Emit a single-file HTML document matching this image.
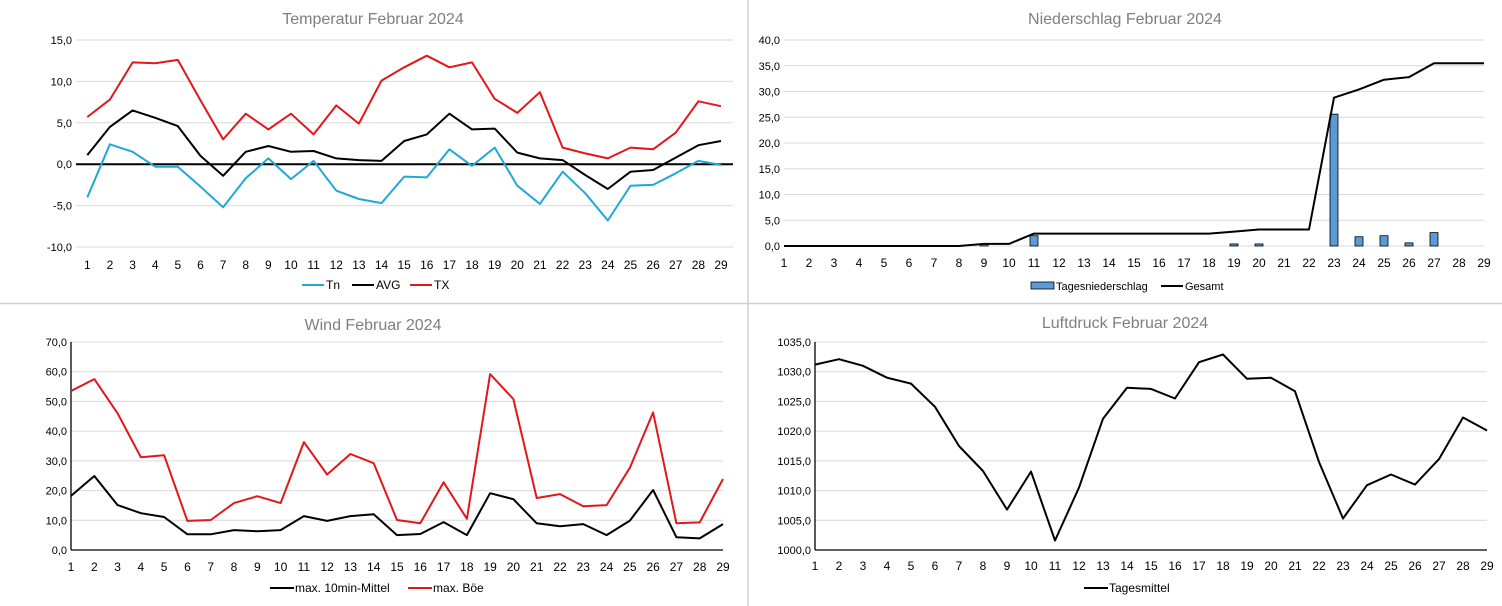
<!DOCTYPE html>
<html><head><meta charset="utf-8"><style>
html,body{margin:0;padding:0;background:#fff}
svg{display:block;font-family:"Liberation Sans",sans-serif}
</style></head><body>
<svg id="s" width="1502" height="606" xmlns="http://www.w3.org/2000/svg"></svg>
<script>
const s=document.getElementById('s');let h='';
function fmt(v){return v.toFixed(1).replace('.',',');}
function line(pts,c,w){return `<polyline points="${pts.map(p=>p[0].toFixed(1)+','+p[1].toFixed(1)).join(' ')}" fill="none" stroke="${c}" stroke-width="${w||2}" stroke-linejoin="round"/>`;}
function chart(o){
  // o: x0 (day1 x), x1 (day29 x), gl,gr grid extent, yTop,yBot,vMin,vMax,step
  const X=i=>o.x0+(o.x1-o.x0)*i/28;
  const Y=v=>o.yBot-(v-o.vMin)/(o.vMax-o.vMin)*(o.yBot-o.yTop);
  h+=`<text x="${o.tx}" y="${o.ty}" font-size="16" fill="#7f7f7f" text-anchor="middle">${o.title}</text>`;
  for(let v=o.vMin;v<=o.vMax+1e-6;v+=o.step){
    const y=Y(v);
    h+=`<line x1="${o.gl}" x2="${o.gr}" y1="${y}" y2="${y}" stroke="#d9d9d9" stroke-width="1"/>`;
    h+=`<text x="${o.gl-4}" y="${y+4}" font-size="11" text-anchor="end" fill="#000">${fmt(v)}</text>`;
  }
  for(let i=0;i<29;i++)h+=`<text x="${X(i)}" y="${o.lblY}" font-size="12" text-anchor="middle">${i+1}</text>`;
  return {X,Y};
}
// Temperature
let c=chart({title:'Temperatur Februar 2024',tx:373,ty:24,x0:87.3,x1:721,gl:76,gr:733,yTop:40,yBot:247,vMin:-10,vMax:15,step:5,lblY:269});
const TX=[5.7,7.8,12.3,12.2,12.6,7.7,3.0,6.1,4.2,6.1,3.6,7.1,4.9,10.1,11.7,13.1,11.7,12.3,7.9,6.2,8.7,2.0,1.3,0.7,2.0,1.8,3.8,7.6,7.0];
const AV=[1.1,4.5,6.5,5.6,4.6,1.0,-1.4,1.5,2.2,1.5,1.6,0.7,0.5,0.4,2.8,3.6,6.1,4.2,4.3,1.4,0.7,0.5,-1.3,-3.0,-0.9,-0.7,0.8,2.3,2.8];
const TN=[-4.0,2.4,1.5,-0.3,-0.3,-2.7,-5.2,-1.7,0.7,-1.8,0.4,-3.2,-4.2,-4.7,-1.5,-1.6,1.8,-0.2,2.0,-2.6,-4.8,-0.9,-3.5,-6.8,-2.6,-2.5,-1.1,0.4,-0.1];
h+=`<line x1="76" x2="733" y1="${c.Y(0)}" y2="${c.Y(0)}" stroke="#000" stroke-width="2"/>`;
h+=line(TN.map((v,i)=>[c.X(i),c.Y(v)]),'#1fa8d8');
h+=line(AV.map((v,i)=>[c.X(i),c.Y(v)]),'#000');
h+=line(TX.map((v,i)=>[c.X(i),c.Y(v)]),'#e3171b');
h+=`<line x1="302" x2="324" y1="285" y2="285" stroke="#1fa8d8" stroke-width="2"/><text x="326" y="289" font-size="12">Tn</text>`;
h+=`<line x1="352" x2="374" y1="285" y2="285" stroke="#000" stroke-width="2"/><text x="376" y="289" font-size="12">AVG</text>`;
h+=`<line x1="410" x2="432" y1="285" y2="285" stroke="#e3171b" stroke-width="2"/><text x="434" y="289" font-size="12">TX</text>`;
// Rain
c=chart({title:'Niederschlag Februar 2024',tx:1125,ty:24,x0:784,x1:1484,gl:784,gr:1484,yTop:40,yBot:246,vMin:0,vMax:40,step:5,lblY:267});
const B={8:0.4,10:2.0,18:0.4,19:0.4,22:25.6,23:1.8,24:2.0,25:0.6,26:2.6};
for(const k in B){const x=c.X(+k),y=c.Y(B[k]);h+=`<rect x="${x-4}" y="${y}" width="8" height="${246-y}" fill="#5b9bd5" stroke="#000" stroke-width="0.8"/>`;}
const G=[0,0,0,0,0,0,0,0,0.4,0.4,2.4,2.4,2.4,2.4,2.4,2.4,2.4,2.4,2.8,3.2,3.2,3.2,28.8,30.4,32.3,32.8,35.5,35.5,35.5];
h+=line(G.map((v,i)=>[c.X(i),c.Y(v)]),'#000');
h+=`<rect x="1031" y="282" width="23" height="7" fill="#5b9bd5" stroke="#000" stroke-width="0.8"/><text x="1056" y="290" font-size="11">Tagesniederschlag</text>`;
h+=`<line x1="1161" x2="1183" y1="286" y2="286" stroke="#000" stroke-width="2"/><text x="1185" y="290" font-size="11">Gesamt</text>`;
// Wind
c=chart({title:'Wind Februar 2024',tx:373,ty:330,x0:71,x1:723,gl:71,gr:723,yTop:342,yBot:550,vMin:0,vMax:70,step:10,lblY:571});
h+=`<line x1="71" x2="71" y1="342" y2="550" stroke="#000" stroke-width="1.3"/><line x1="71" x2="723" y1="550" y2="550" stroke="#000" stroke-width="1.3"/>`;
const GU=[53.5,57.5,46,31.2,31.9,9.8,10.1,15.8,18.1,15.8,36.3,25.4,32.3,29.2,10.1,9.0,22.8,10.5,59.2,50.8,17.5,18.8,14.7,15.1,27.7,46.3,9.0,9.3,23.9];
const ME=[18.2,24.9,15.1,12.4,11.1,5.3,5.3,6.7,6.3,6.7,11.4,9.8,11.4,12.0,5.0,5.4,9.4,5.0,19.1,17.1,9.0,8.0,8.7,5.0,9.9,20.2,4.3,3.9,8.7];
h+=line(ME.map((v,i)=>[c.X(i),c.Y(v)]),'#000');
h+=line(GU.map((v,i)=>[c.X(i),c.Y(v)]),'#e3171b');
h+=`<line x1="270" x2="294" y1="588" y2="588" stroke="#000" stroke-width="2"/><text x="295" y="592" font-size="12">max. 10min-Mittel</text>`;
h+=`<line x1="408" x2="432" y1="588" y2="588" stroke="#e3171b" stroke-width="2"/><text x="433" y="592" font-size="12">max. Böe</text>`;
// Pressure
c=chart({title:'Luftdruck Februar 2024',tx:1125,ty:328,x0:815,x1:1487,gl:815,gr:1487,yTop:342,yBot:550,vMin:1000,vMax:1035,step:5,lblY:570});
h+=`<line x1="815" x2="815" y1="342" y2="550" stroke="#000" stroke-width="1.3"/><line x1="815" x2="1487" y1="550" y2="550" stroke="#000" stroke-width="1.3"/>`;
const P=[1031.2,1032.1,1031.0,1029.0,1028.0,1024.1,1017.5,1013.3,1006.8,1013.2,1001.6,1010.5,1022.1,1027.3,1027.1,1025.5,1031.6,1032.9,1028.8,1029.0,1026.7,1014.8,1005.3,1010.9,1012.7,1011.0,1015.3,1022.3,1020.1];
h+=line(P.map((v,i)=>[c.X(i),c.Y(v)]),'#000');
h+=`<line x1="1084" x2="1108" y1="588" y2="588" stroke="#000" stroke-width="2"/><text x="1109" y="592" font-size="12">Tagesmittel</text>`;
// dividers
h+=`<line x1="748" x2="748" y1="0" y2="606" stroke="#d0d0d0" stroke-width="1.5"/><line x1="0" x2="1502" y1="303.5" y2="303.5" stroke="#d0d0d0" stroke-width="1.5"/>`;
s.innerHTML=h;
</script>
</body></html>
